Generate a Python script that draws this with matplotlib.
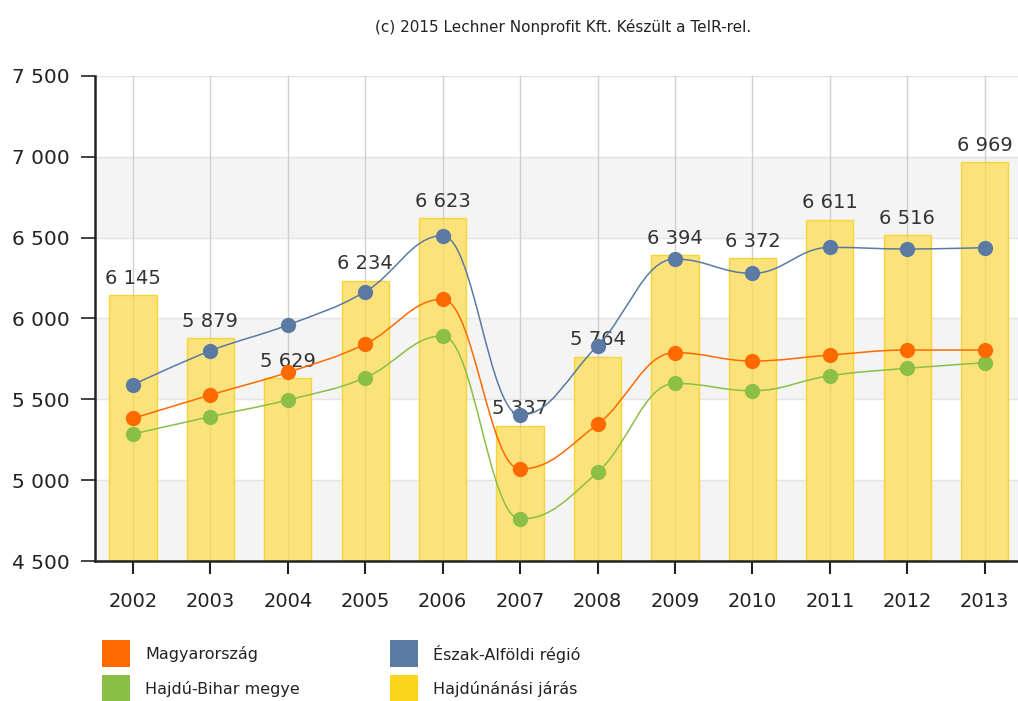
import matplotlib.pyplot as plt
from matplotlib.path import Path
from matplotlib.patches import PathPatch, Rectangle

# adatok
evek = ['2002', '2003', '2004', '2005', '2006', '2007', '2008', '2009', '2010', '2011', '2012', '2013']
hajdunanasi = [6145, 5879, 5629, 6234, 6623, 5337, 5764, 6394, 6372, 6611, 6516, 6969]
eszak_alfold = [5590, 5800, 5960, 6166, 6512, 5403, 5832, 6368, 6279, 6440, 6430, 6438]
magyarorszag = [5382, 5527, 5667, 5842, 6119, 5069, 5345, 5789, 5737, 5774, 5805, 5805]
hajdu_bihar = [5285, 5393, 5496, 5634, 5892, 4760, 5048, 5599, 5553, 5646, 5692, 5726]

NARANCS = '#ff6a00'
KEK = '#5b7aa3'
ZOLD = '#8cbf45'
SARGA = '#fcd61c'


def spline_path(xs, ys, smoothing=1.5):
    # highcharts-szeru spline: bezier kontrollpontok minden pontban
    n = len(xs)
    bal = [(xs[i], ys[i]) for i in range(n)]
    jobb = [(xs[i], ys[i]) for i in range(n)]
    d = smoothing + 1
    for i in range(1, n - 1):
        lx, ly = xs[i - 1], ys[i - 1]
        nx, ny = xs[i + 1], ys[i + 1]
        px, py = xs[i], ys[i]
        lcx = (smoothing * px + lx) / d
        lcy = (smoothing * py + ly) / d
        rcx = (smoothing * px + nx) / d
        rcy = (smoothing * py + ny) / d
        if rcx != lcx:
            korr = (rcy - lcy) * (rcx - px) / (rcx - lcx) + py - rcy
            lcy += korr
            rcy += korr
        if lcy > ly and lcy > py:
            lcy = max(ly, py)
            rcy = 2 * py - lcy
        elif lcy < ly and lcy < py:
            lcy = min(ly, py)
            rcy = 2 * py - lcy
        if rcy > ny and rcy > py:
            rcy = max(ny, py)
            lcy = 2 * py - rcy
        elif rcy < ny and rcy < py:
            rcy = min(ny, py)
            lcy = 2 * py - rcy
        bal[i] = (lcx, lcy)
        jobb[i] = (rcx, rcy)
    verts = [(xs[0], ys[0])]
    codes = [Path.MOVETO]
    for i in range(1, n):
        verts += [jobb[i - 1], bal[i], (xs[i], ys[i])]
        codes += [Path.CURVE4] * 3
    return Path(verts, codes)


def ezres(v):
    return f'{v:,.0f}'.replace(',', ' ')


fig = plt.figure(figsize=(10.18, 7.01), dpi=100)
ax = fig.add_axes([0.0933, 0.1997, 0.9067, 0.6919])

x = list(range(len(evek)))

# sávos háttér
for a, b in [(4500, 5000), (5500, 6000), (6500, 7000)]:
    ax.axhspan(a, b, color='#f4f4f5', zorder=0, lw=0)
for v in range(4500, 7501, 500):
    ax.axhline(v, color='#e4e4e4', lw=1, zorder=0.5)
for xi in x:
    ax.axvline(xi, color='#dcdcdc', lw=1, zorder=0.5)
    ax.axvline(xi, color='black', alpha=0.05, lw=1, zorder=1.5)

ax.bar(x, [h - 4500 for h in hajdunanasi], bottom=4500, width=0.61,
       color='#fbe27a', edgecolor='#f6d43c', linewidth=1, zorder=1)

for xi, h in zip(x, hajdunanasi):
    ax.text(xi, h + 45, ezres(h), ha='center', va='bottom', fontsize=14,
            color='#333333', zorder=2)

for adat, szin in [(hajdu_bihar, ZOLD), (magyarorszag, NARANCS), (eszak_alfold, KEK)]:
    ax.add_patch(PathPatch(spline_path(x, adat), facecolor='none', edgecolor=szin,
                           lw=1.1, zorder=3))
    ax.plot(x, adat, 'o', color=szin, ms=11, mec='none', zorder=4)

ax.set_xlim(-0.49, 11.43)
ax.set_ylim(4500, 7500)
ax.set_yticks(range(4500, 7501, 500))
ax.set_yticklabels([ezres(v) for v in range(4500, 7501, 500)])
ax.set_xticks(x)
ax.set_xticklabels(evek)
ax.tick_params(axis='y', length=10, width=1.2, colors='#222222', labelsize=14.5, pad=8)
ax.tick_params(axis='x', length=9, width=1.5, colors='#222222', labelsize=14, pad=13)

for s in ['top', 'right']:
    ax.spines[s].set_visible(False)
ax.spines['left'].set_linewidth(1.8)
ax.spines['bottom'].set_linewidth(1.8)
ax.spines['left'].set_color('#222222')
ax.spines['bottom'].set_color('#222222')

fig.text(0.553, 0.962, '(c) 2015 Lechner Nonprofit Kft. Készült a TeIR-rel.',
         ha='center', va='center', fontsize=11, color='#222222')

# jelmagyarázat
W, H = 1018, 701
tetelek = [('Magyarország', NARANCS, 102, 640), ('Észak-Alföldi régió', KEK, 390, 640),
           ('Hajdú-Bihar megye', ZOLD, 102, 675), ('Hajdúnánási járás', SARGA, 390, 675)]
for nev, szin, px, py in tetelek:
    fig.add_artist(Rectangle((px / W, 1 - (py + 27) / H), 28 / W, 27 / H,
                             transform=fig.transFigure, color=szin, lw=0))
    fig.text((px + 43) / W, 1 - (py + 14) / H, nev, ha='left', va='center',
             fontsize=11.5, color='#222222')

fig.savefig('out.png', dpi=100)
